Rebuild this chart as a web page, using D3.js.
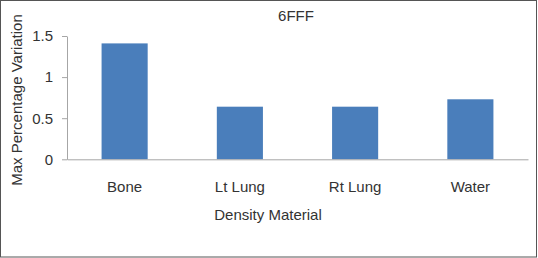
<!DOCTYPE html>
<html lang="en">
<head>
<meta charset="UTF-8"/>
<title>6FFF</title>
<script src="https://d3js.org/d3.v7.min.js"></script>
<style>
	body { margin: 0; background: #fff; }
	text { font-family: "Liberation Sans", Arial, sans-serif; fill: #333; }
	.bar { fill: #4a7ebb; }
	.axis path, .axis line { stroke: #a6a6a6; }
</style>
</head>
<body>
<div id="chart"></div>
<script>
var materials = ["Bone", "Lt Lung", "Rt Lung", "Water"];
var maxVariation = [1.41, 0.64, 0.64, 0.73];
var yTicks = [0, 0.5, 1, 1.5];

var w = 538, h = 258;
var margin = {top: 36, bottom: 99, left: 67, right: 10};

var svg = d3.select("#chart")
	.append("svg")
	.attr("width", w)
	.attr("height", h);

// frame
svg.append("rect")
	.attr("x", 0.5).attr("y", 0.5)
	.attr("width", w - 2).attr("height", h - 1.5)
	.attr("fill", "none")
	.attr("stroke", "#555");

var xScale = d3.scaleBand()
	.domain(materials)
	.range([margin.left, w - margin.right])
	.paddingInner(0.6)
	.paddingOuter(0.3);

var yScale = d3.scaleLinear()
	.domain([0, 1.5])
	.range([h - margin.bottom + 0.3, margin.top]);

svg.selectAll(".bar")
	.data(materials)
	.enter()
	.append("rect")
	.attr("class", "bar")
	.attr("x", function(d) { return xScale(d); })
	.attr("width", xScale.bandwidth())
	.attr("y", function(d, i) { return yScale(maxVariation[i]); })
	.attr("height", function(d, i) { return yScale(0) - yScale(maxVariation[i]); });

var yAxis = d3.axisLeft(yScale)
	.tickValues(yTicks)
	.tickFormat(d3.format("~g"))
	.tickSize(5)
	.tickSizeOuter(0)
	.tickPadding(9);

svg.append("g")
	.attr("class", "axis")
	.attr("transform", "translate(" + margin.left + ",0)")
	.call(yAxis)
	.selectAll("text")
	.style("font-size", "15px")
	.attr("fill", "#333");

var xAxis = d3.axisBottom(xScale)
	.tickSize(0)
	.tickPadding(22);

svg.append("g")
	.attr("class", "axis")
	.attr("transform", "translate(0," + yScale(0) + ")")
	.call(xAxis)
	.selectAll("text")
	.style("font-size", "15px")
	.attr("fill", "#333");

svg.append("text")
	.attr("x", 296)
	.attr("y", 21)
	.attr("text-anchor", "middle")
	.style("font-size", "15px")
	.text("6FFF");

svg.append("text")
	.attr("x", 268)
	.attr("y", 220)
	.attr("text-anchor", "middle")
	.style("font-size", "15px")
	.text("Density Material");

svg.append("text")
	.attr("transform", "translate(22," + 100 + ") rotate(-90)")
	.attr("text-anchor", "middle")
	.style("font-size", "15px")
	.text("Max Percentage Variation");
</script>
</body>
</html>
